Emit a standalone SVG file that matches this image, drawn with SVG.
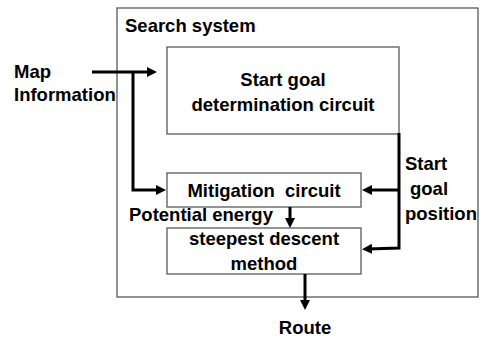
<svg xmlns="http://www.w3.org/2000/svg" width="482" height="340" viewBox="0 0 482 340">
  <style>
    text { font-family: "Liberation Sans", Arial, sans-serif; font-weight: bold; font-size: 18.5px; fill: #000; }
    .box { fill: #fff; stroke: #595959; stroke-width: 1.3; }
    .conn { fill: none; stroke: #000; stroke-width: 3; stroke-linejoin: miter; }
    .mid { text-anchor: middle; }
  </style>
  <defs>
    <marker id="ah" markerUnits="userSpaceOnUse" markerWidth="11" markerHeight="11" refX="4" refY="5" orient="auto">
      <path d="M0,0 L10,5 L0,10 z" fill="#000"/>
    </marker>
  </defs>

  <g id="search-system">
    <rect class="box" x="117" y="8" width="361" height="289"/>
    <text x="125" y="32">Search system</text>
  </g>

  <g id="start-goal-determination">
    <rect class="box" x="167" y="47" width="232" height="87"/>
    <text class="mid" x="283" y="86">Start goal</text>
    <text class="mid" x="283" y="111">determination circuit</text>
  </g>

  <g id="mitigation">
    <rect class="box" x="167" y="173" width="194" height="34"/>
    <text class="mid" x="264" y="197" xml:space="preserve">Mitigation  circuit</text>
  </g>

  <g id="steepest-descent">
    <rect class="box" x="167" y="228" width="194" height="46"/>
    <text class="mid" x="264" y="245">steepest descent</text>
    <text class="mid" x="264" y="270">method</text>
  </g>

  <g id="labels">
    <text x="14" y="78">Map</text>
    <text x="14" y="101">Information</text>
    <text x="129" y="221">Potential energy</text>
    <text x="405" y="170">Start</text>
    <text x="410" y="195">goal</text>
    <text x="405" y="220">position</text>
    <text class="mid" x="305" y="334">Route</text>
  </g>

  <g id="connectors">
    <path class="conn" d="M92,72 L151,72" marker-end="url(#ah)"/>
    <path class="conn" d="M133,72 L133,190 L160,190" marker-end="url(#ah)"/>
    <path class="conn" d="M399,133 L399,248 L368,249" marker-end="url(#ah)"/>
    <path class="conn" d="M399,190 L368,190" marker-end="url(#ah)"/>
    <path class="conn" d="M290,207 L290,222" marker-end="url(#ah)"/>
    <path class="conn" d="M305,274 L305,304" marker-end="url(#ah)"/>
  </g>
</svg>
